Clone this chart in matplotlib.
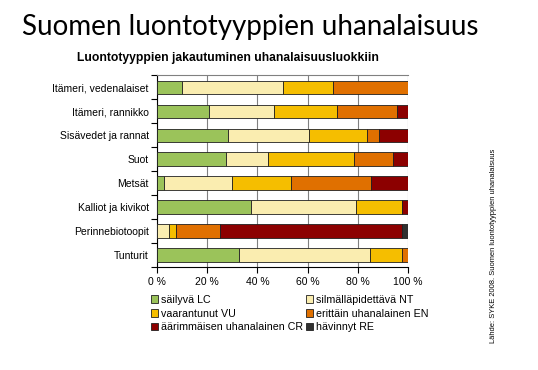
import numpy as np
import matplotlib.pyplot as plt

# luontotyypit ylhäältä alas
categories = ["Itämeri, vedenalaiset", "Itämeri, rannikko", "Sisävedet ja rannat",
              "Suot", "Metsät", "Kalliot ja kivikot", "Perinnebiotoopit", "Tunturit"]

# osuudet (%) uhanalaisuusluokittain
lc = [10.1, 20.8, 28.4, 27.5, 2.8, 37.6, 0.0, 32.8]
nt = [39.9, 25.9, 32.1, 16.8, 27.2, 41.6, 4.8, 51.9]
vu = [20.1, 25.2, 23.2, 34.2, 23.5, 18.5, 2.7, 13.1]
en = [29.9, 23.6, 4.7, 15.6, 31.6, 0.0, 17.6, 2.2]
cr = [0.0, 4.5, 11.6, 5.9, 14.9, 2.3, 72.7, 0.0]
re = [0.0, 0.0, 0.0, 0.0, 0.0, 0.0, 2.2, 0.0]

series = [lc, nt, vu, en, cr, re]
names = ["säilyvä LC", "silmälläpidettävä NT", "vaarantunut VU",
         "erittäin uhanalainen EN", "äärimmäisen uhanalainen CR", "hävinnyt RE"]
colors = ["#9BC35A", "#FAEDB0", "#F5BE00", "#E07000", "#8C0000", "#303030"]
xticks = [0, 20, 40, 60, 80, 100]
xticklabels = ["0 %", "20 %", "40 %", "60 %", "80 %", "100 %"]

plt.rcParams['font.family'] = ['Liberation Sans', 'DejaVu Sans']

fig = plt.figure(figsize=(5.38, 3.70), dpi=100)
ax = fig.add_axes([0.2918, 0.2784, 0.4666, 0.5176])

y = np.arange(len(categories))
left = np.zeros(len(categories))
handles = []
for vals, name, col in zip(series, names, colors):
    vals = np.array(vals)
    b = ax.barh(y, vals, left=left, height=0.57, color=col,
                edgecolor="#202020", linewidth=0.6, label=name, zorder=3)
    handles.append(b)
    left += vals

ax.set_ylim(len(categories) - 0.5, -0.5)
ax.set_xlim(0, 100)
ax.set_xticks(xticks)
ax.set_xticklabels(xticklabels, fontsize=7.5)
ax.set_yticks(y)
ax.set_yticklabels(categories, fontsize=7.5)
ax.tick_params(axis='y', length=0, pad=6)
ax.set_yticks(np.arange(len(categories) + 1) - 0.5, minor=True)
ax.tick_params(axis='y', which='minor', length=4, width=0.8, direction='out')
ax.tick_params(axis='x', length=4, width=0.8, direction='out', pad=3)
ax.grid(axis='x', color="#808080", linewidth=0.8, zorder=0)
ax.spines['right'].set_visible(False)
ax.spines['top'].set_color("#808080")
ax.spines['left'].set_linewidth(0.8)
ax.spines['bottom'].set_linewidth(0.8)

order = [0, 2, 4, 1, 3, 5]
ax.legend([handles[i] for i in order], [names[i] for i in order],
          ncol=2, loc='upper left', bbox_to_anchor=(-0.025, -0.145),
          frameon=False, fontsize=7.7, handlelength=0.7, handleheight=0.7,
          handletextpad=0.3, columnspacing=0.2, labelspacing=0.35,
          borderaxespad=0, borderpad=0)

fig.text(0.041, 0.905, "Suomen luontotyyppien uhanalaisuus", fontsize=20,
         family=['Lato', 'DejaVu Sans'], va='baseline', ha='left')
fig.text(0.423, 0.843, "Luontotyyppien jakautuminen uhanalaisuusluokkiin",
         fontsize=8.7, fontweight='bold', ha='center', va='center')
fig.text(0.918, 0.073, "Lähde: SYKE 2008. Suomen luontotyyppien uhanalaisuus",
         fontsize=5.4, rotation=90, ha='center', va='bottom')

fig.savefig("out.png", dpi=100)
